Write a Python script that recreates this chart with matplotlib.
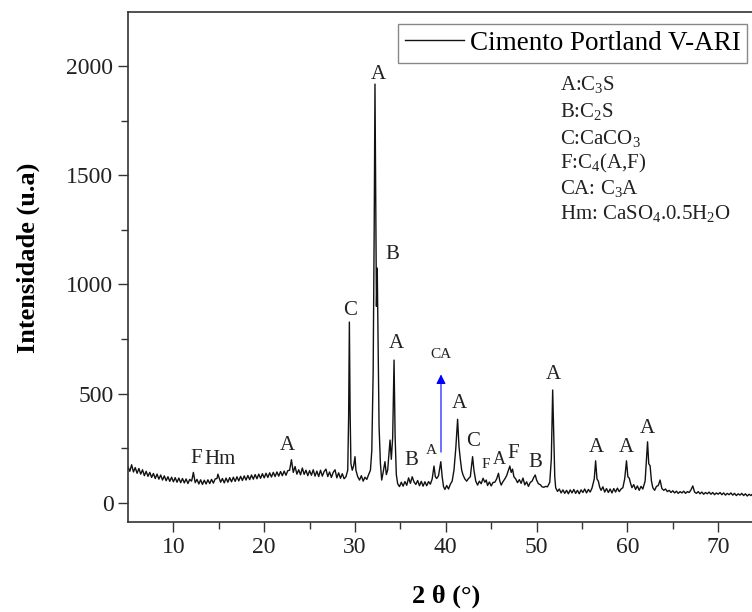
import matplotlib
matplotlib.use('Agg')
import matplotlib.pyplot as plt
import numpy as np

plt.rcParams['font.family'] = ['Liberation Serif', 'DejaVu Serif']
plt.rcParams['mathtext.fontset'] = 'custom'
plt.rcParams['mathtext.rm'] = 'Liberation Serif'
plt.rcParams['mathtext.it'] = 'Liberation Serif:italic'

#### diffractogram (2theta in deg, counts)
# low angle part, 5 - 28.8
tt_a = [5.0, 5.2, 5.4, 5.6, 5.8, 6.0, 6.2, 6.4, 6.6, 6.8,
        7.0, 7.2, 7.4, 7.6, 7.8, 8.0, 8.2, 8.4, 8.6, 8.8,
        9.0, 9.2, 9.4, 9.6, 9.8, 10.0, 10.2, 10.4, 10.6, 10.8,
        11.0, 11.2, 11.4, 11.6, 11.8, 12.0, 12.1, 12.2, 12.3, 12.4,
        12.6, 12.8, 13.0, 13.2, 13.4, 13.6, 13.8, 14.0, 14.2, 14.4,
        14.6, 14.8, 14.9, 15.0, 15.2, 15.4, 15.6, 15.8, 16.0, 16.2,
        16.4, 16.6, 16.8, 17.0, 17.2, 17.4, 17.6, 17.8, 18.0, 18.2,
        18.4, 18.6, 18.8, 19.0, 19.2, 19.4, 19.6, 19.8, 20.0, 20.2,
        20.4, 20.6, 20.8, 21.0, 21.2, 21.4, 21.6, 21.8, 22.0, 22.2,
        22.4, 22.6, 22.8, 23.0, 23.1, 23.2, 23.4, 23.6, 23.8, 24.0,
        24.2, 24.4, 24.6, 24.8, 25.0, 25.2, 25.4, 25.6, 25.8, 26.0,
        26.2, 26.4, 26.6, 26.8, 27.0, 27.2, 27.4, 27.6, 27.8, 28.0,
        28.2, 28.4, 28.6, 28.8]
ii_a = [165, 145, 175, 142, 162, 136, 158, 132, 152, 125,
        145, 122, 140, 117, 135, 112, 132, 109, 128, 105,
        124, 102, 120, 99, 118, 97, 116, 95, 114, 93,
        112, 92, 110, 89, 108, 100, 118, 140, 115, 93,
        108, 87, 106, 85, 104, 87, 106, 89, 108, 91,
        110, 112, 132, 120, 95, 112, 92, 114, 95, 116,
        97, 118, 99, 120, 101, 122, 103, 124, 105, 126,
        107, 128, 109, 130, 111, 132, 113, 134, 115, 136,
        117, 138, 119, 140, 121, 142, 123, 144, 125, 146,
        127, 148, 150, 198, 170, 140, 167, 132, 152, 129,
        160, 131, 150, 125, 148, 127, 152, 123, 146, 121,
        150, 123, 144, 155, 121, 142, 117, 140, 152, 115,
        138, 113, 134, 111]

# main peak region, 29 - 52
tt_b = [29.0, 29.2, 29.3, 29.38, 29.46, 29.55, 29.7, 29.85, 30.0, 30.1,
        30.3, 30.5, 30.7, 30.9, 31.1, 31.3, 31.5, 31.7, 31.85, 32.0,
        32.12, 32.2, 32.28, 32.36, 32.45, 32.55, 32.65, 32.8, 32.94, 33.1,
        33.3, 33.45, 33.6, 33.86, 34.0, 34.15, 34.3, 34.42, 34.55, 34.7,
        34.9, 35.1, 35.3, 35.5, 35.7, 35.9, 36.1, 36.3, 36.5, 36.7,
        36.9, 37.1, 37.3, 37.5, 37.7, 37.9, 38.1, 38.3, 38.5, 38.7,
        38.85, 39.0, 39.2, 39.45, 39.6, 39.75, 39.9, 40.1, 40.3, 40.5,
        40.7, 40.9, 41.1, 41.3, 41.45, 41.6, 41.75, 41.9, 42.1, 42.3,
        42.5, 42.7, 42.95, 43.1, 43.3, 43.5, 43.7, 43.9, 44.1, 44.3,
        44.45, 44.6, 44.8, 45.0, 45.2, 45.4, 45.6, 45.8, 45.95, 46.1,
        46.3, 46.5, 46.7, 46.9, 47.05, 47.2, 47.35, 47.5, 47.7, 47.9,
        48.1, 48.3, 48.5, 48.7, 48.9, 49.1, 49.3, 49.5, 49.7, 49.85,
        50.0, 50.2, 50.4, 50.6, 50.8, 51.0, 51.2, 51.45, 51.62, 51.77,
        51.87, 52.0]
ii_b = [120, 150, 400, 828, 420, 180, 150, 170, 212, 150,
        120, 105, 125, 100, 118, 108, 130, 150, 240, 600,
        1300, 1917, 1400, 900, 1075, 700, 350, 180, 105, 140,
        189, 130, 151, 288, 200, 300, 654, 300, 130, 88,
        75, 95, 77, 98, 81, 115, 90, 120, 96, 85,
        103, 79, 99, 77, 97, 79, 98, 86, 110, 169,
        120, 112, 125, 189, 120, 75, 62, 80, 64, 86,
        100, 150, 250, 383, 260, 200, 150, 128, 110, 100,
        112, 120, 212, 150, 100, 82, 100, 88, 113, 95,
        105, 80, 96, 78, 94, 95, 110, 136, 100, 82,
        98, 110, 125, 150, 169, 140, 155, 120, 110, 93,
        107, 90, 114, 83, 97, 76, 94, 100, 118, 128,
        105, 88, 84, 74, 72, 76, 74, 95, 200, 517,
        350, 120]

# high angle part, 52.1 - 74.4
tt_c = [52.1, 52.3, 52.5, 52.7, 52.9, 53.1, 53.3, 53.5, 53.7, 53.9,
        54.1, 54.3, 54.5, 54.7, 54.9, 55.1, 55.3, 55.5, 55.7, 55.9,
        56.1, 56.35, 56.5, 56.65, 56.8, 56.95, 57.1, 57.3, 57.5, 57.7,
        57.9, 58.1, 58.3, 58.5, 58.7, 58.9, 59.1, 59.3, 59.5, 59.7,
        59.9, 60.05, 60.2, 60.35, 60.5, 60.7, 60.9, 61.1, 61.3, 61.5,
        61.7, 61.95, 62.1, 62.22, 62.35, 62.5, 62.65, 62.8, 63.0, 63.2,
        63.4, 63.6, 63.8, 64.0, 64.2, 64.4, 64.6, 64.8, 65.0, 65.2,
        65.4, 65.6, 65.8, 66.0, 66.2, 66.4, 66.6, 66.8, 67.0, 67.2,
        67.4, 67.6, 67.8, 68.0, 68.2, 68.4, 68.6, 68.8, 69.0, 69.2,
        69.4, 69.6, 69.8, 70.0, 70.2, 70.4, 70.6, 70.8, 71.0, 71.2,
        71.4, 71.6, 71.8, 72.0, 72.2, 72.4, 72.6, 72.8, 73.0, 73.2,
        73.4, 73.6, 73.8, 74.0, 74.2, 74.4]
ii_c = [70, 53, 64, 46, 60, 44, 58, 42, 60, 46,
        62, 44, 58, 42, 60, 48, 64, 46, 62, 50,
        68, 110, 193, 110, 100, 72, 58, 74, 50, 66,
        48, 64, 46, 66, 50, 68, 52, 64, 70, 110,
        193, 120, 114, 90, 70, 84, 62, 78, 58, 76,
        64, 100, 200, 280, 180, 170, 100, 70, 58, 76,
        80, 105, 66, 58, 64, 52, 58, 48, 56, 46,
        54, 44, 52, 46, 54, 44, 52, 48, 60, 78,
        50, 44, 52, 42, 50, 40, 48, 42, 50, 40,
        48, 38, 46, 40, 48, 38, 46, 36, 44, 38,
        46, 36, 44, 34, 42, 36, 44, 34, 42, 32,
        40, 34, 42, 34, 40, 32]

two_theta = np.array(tt_a + tt_b + tt_c)
intensity = np.array(ii_a + ii_b + ii_c)

# phase labels over the peaks
lab_text = ['F', 'Hm', 'A', 'C', 'A', 'B', 'A', 'B', 'A', 'CA', 'A', 'C',
            'F', 'A', 'F', 'B', 'A', 'A', 'A', 'A']
lab_x = [12.49, 15.13, 22.59, 29.45, 32.53, 34.07, 34.6, 36.25, 38.45, 39.47,
         41.49, 42.96, 44.43, 45.9, 47.43, 49.82, 51.84, 56.54, 59.92, 62.19]
lab_y = [204, 197, 265, 883, 1959, 1135, 732, 195, 240, 680,
         456, 281, 177, 201, 227, 184, 586, 255, 255, 342]
lab_size = [15, 15, 15, 15, 15, 15, 15, 15, 11, 11,
            15, 15, 11, 13, 15, 15, 15, 15, 15, 15]

phases = ['A:C$_3$S', 'B:C$_2$S', 'C:CaCO$_3$', 'F:C$_4$(A,F)',
          'CA: C$_3$A', 'Hm: CaSO$_4$.0.5H$_2$O']
phase_y = [1913, 1791, 1666, 1555, 1440, 1323]

fig = plt.figure(figsize=(7.52, 6.12), dpi=100)
ax = fig.add_axes([128/752, 90/612, 681/752, 510/612])
ax.plot(two_theta, intensity, color='#111111', lw=1.0, label='Cimento Portland V-ARI')

for t, x, y, s in zip(lab_text, lab_x, lab_y, lab_size):
    ax.text(x, y, t, fontsize=s, ha='center', va='center', color='#222222')

ax.annotate('', xy=(39.47, 601), xytext=(39.47, 220),
            arrowprops=dict(arrowstyle='-|>', color='blue', lw=0.8, mutation_scale=14))

for t, y in zip(phases, phase_y):
    ax.text(52.58, y, t, fontsize=15, ha='left', va='center', color='#222222')

ax.set_xlim(5, 80)
ax.set_ylim(-87, 2247)
ax.set_xticks([10, 20, 30, 40, 50, 60, 70])
ax.set_xticks([15, 25, 35, 45, 55, 65, 75], minor=True)
ax.set_yticks([0, 500, 1000, 1500, 2000])
ax.set_yticks([250, 750, 1250, 1750], minor=True)
ax.tick_params(which='major', direction='out', length=7, width=1, labelsize=17, color='#333333', labelcolor='#222222')
ax.tick_params(which='minor', direction='out', length=5, width=1, color='#333333')
for sp in ax.spines.values():
    sp.set_linewidth(1.2)
    sp.set_color('#333333')

ax.set_xlabel('2 θ (°)', fontsize=19, fontweight='bold')
ax.set_ylabel('Intensidade (u.a)', fontsize=19, fontweight='bold')
ax.xaxis.set_label_coords((446 - 128) / 681, (522 - 585) / 510)
ax.yaxis.set_label_coords((40 - 128) / 681, (522 - 258) / 510)

leg = ax.legend(loc='upper left', bbox_to_anchor=(398/752, 1 - 24/612), bbox_transform=fig.transFigure,
                fontsize=19.5, frameon=True, fancybox=False, edgecolor='#888888', framealpha=1,
                handlelength=2.2, handletextpad=0.2, borderpad=0.25, borderaxespad=0)
leg.get_frame().set_linewidth(1.0)

fig.savefig('out.png', dpi=100)
